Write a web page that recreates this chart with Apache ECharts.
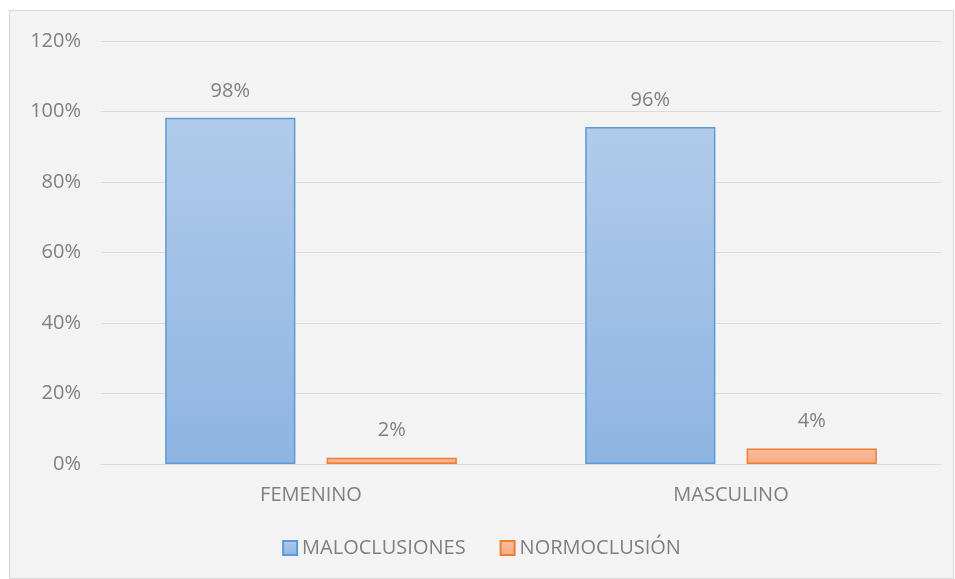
<!DOCTYPE html>
<html>
<head>
<meta charset="utf-8">
<script src="https://cdn.jsdelivr.net/npm/echarts@6/dist/echarts.min.js"></script>
<style>
  html, body { margin: 0; padding: 0; background: #ffffff; }
  #main {
    position: absolute; left: 9px; top: 10px;
    width: 943px; height: 567px;
    background: #f3f3f3; border: 1px solid #d9d9d9;
  }
</style>
</head>
<body>
<div id="main"></div>
<script>
const categories = ['FEMENINO', 'MASCULINO'];
const maloclusiones = [98.2, 95.6];
const normoclusion = [1.8, 4.4];
const yTicks = [0, 20, 40, 60, 80, 100, 120];

const textColor = '#7f7f7f';
const font = 'Open Sans';

const myChart = echarts.init(document.getElementById('main'));

const grad = (top, bottom) => new echarts.graphic.LinearGradient(0, 0, 0, 1, [
    { offset: 0, color: top },
    { offset: 1, color: bottom }
]);

const option = {
    backgroundColor: '#f3f3f3',
    animation: false,
    textStyle: { fontFamily: font, color: textColor },
    grid: { left: 91, right: 12, top: 30, bottom: 114 },
    legend: {
        bottom: 15,
        left: 'center',
        itemWidth: 14,
        itemHeight: 14,
        itemGap: 34,
        icon: 'rect',
        textStyle: { fontSize: 20, color: textColor, fontFamily: font },
        data: ['MALOCLUSIONES', 'NORMOCLUSIÓN']
    },
    xAxis: {
        type: 'category',
        data: categories,
        axisLine: { lineStyle: { color: '#d9d9de' } },
        axisTick: { show: false },
        axisLabel: { fontSize: 20, color: textColor, margin: 21, fontFamily: font }
    },
    yAxis: {
        type: 'value',
        min: yTicks[0],
        max: yTicks[yTicks.length - 1],
        interval: 20,
        axisLine: { show: false },
        axisTick: { show: false },
        splitLine: { lineStyle: { color: '#d9d9de', width: 1 } },
        axisLabel: {
            fontSize: 20, color: textColor, margin: 20, fontFamily: font,
            formatter: v => v + '%'
        }
    },
    series: [
        {
            name: 'MALOCLUSIONES',
            type: 'bar',
            data: maloclusiones,
            barWidth: '31%',
            barGap: '24%',
            itemStyle: {
                color: grad('#b1cbea', '#8fb4e3'),
                borderColor: '#5b9bd5',
                borderWidth: 1.5
            },
            label: {
                show: true, position: 'top', distance: 17,
                fontSize: 20, color: textColor, fontFamily: font,
                formatter: p => Math.round(p.value) + '%'
            }
        },
        {
            name: 'NORMOCLUSIÓN',
            type: 'bar',
            data: normoclusion,
            barWidth: '31%',
            itemStyle: {
                color: grad('#f9bfa0', '#f5a982'),
                borderColor: '#ed7d31',
                borderWidth: 1.5
            },
            label: {
                show: true, position: 'top', distance: 17,
                fontSize: 20, color: textColor, fontFamily: font,
                formatter: p => Math.round(p.value) + '%'
            }
        }
    ]
};
myChart.setOption(option);
</script>
</body>
</html>
